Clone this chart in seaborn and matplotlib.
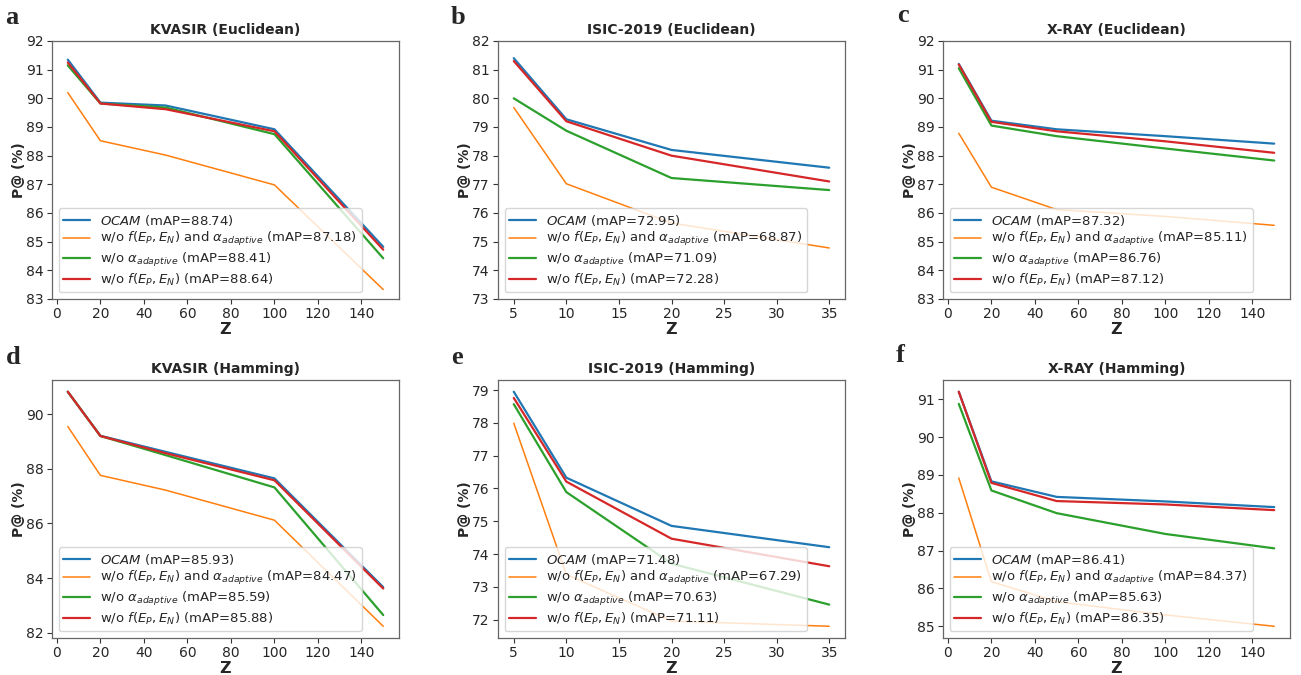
import seaborn as sns
import matplotlib.pyplot as plt
import pandas as pd
import numpy as np
from matplotlib.ticker import MultipleLocator

## values (P@ in %)
z_long = [5, 20, 50, 100, 150]
z_isic = [5, 10, 20, 35]

methods = [r"$\mathit{OCAM}$",
           r"w/o $f(E_P, E_N)$ and $\alpha_{adaptive}$",
           r"w/o $\alpha_{adaptive}$",
           r"w/o $f(E_P, E_N)$"]

# a - KVASIR (Euclidean)
kvasir_euc = [[91.35, 89.85, 89.75, 88.92, 84.82],
              [90.20, 88.52, 88.02, 86.98, 83.33],
              [91.15, 89.82, 89.68, 88.75, 84.42],
              [91.25, 89.82, 89.62, 88.85, 84.72]]
kvasir_euc_map = [88.74, 87.18, 88.41, 88.64]

# b - ISIC-2019 (Euclidean)
isic_euc = [[81.40, 79.27, 78.20, 77.58],
            [79.68, 77.02, 75.65, 74.78],
            [80.00, 78.87, 77.22, 76.80],
            [81.30, 79.20, 78.00, 77.10]]
isic_euc_map = [72.95, 68.87, 71.09, 72.28]

# c - X-RAY (Euclidean)
xray_euc = [[91.20, 89.22, 88.92, 88.68, 88.42],
            [88.78, 86.90, 86.12, 85.88, 85.57],
            [91.05, 89.05, 88.68, 88.25, 87.83],
            [91.18, 89.18, 88.85, 88.50, 88.10]]
xray_euc_map = [87.32, 85.11, 86.76, 87.12]

# d - KVASIR (Hamming)
kvasir_ham = [[90.82, 89.21, 88.62, 87.65, 83.67],
              [89.55, 87.76, 87.22, 86.12, 82.24],
              [90.82, 89.20, 88.50, 87.32, 82.65],
              [90.82, 89.20, 88.57, 87.58, 83.62]]
kvasir_ham_map = [85.93, 84.47, 85.59, 85.88]

# e - ISIC-2019 (Hamming)
isic_ham = [[78.95, 76.33, 74.86, 74.21],
            [77.99, 73.38, 71.96, 71.80],
            [78.57, 75.89, 73.71, 72.46],
            [78.76, 76.21, 74.47, 73.63]]
isic_ham_map = [71.48, 67.29, 70.63, 71.11]

# f - X-RAY (Hamming)
xray_ham = [[91.20, 88.83, 88.42, 88.30, 88.15],
            [88.92, 86.18, 85.65, 85.30, 85.00],
            [90.88, 88.59, 87.99, 87.44, 87.06],
            [91.20, 88.79, 88.31, 88.22, 88.07]]
xray_ham_map = [86.41, 84.37, 85.63, 86.35]

panels = [
    ("a", "KVASIR (Euclidean)", z_long, kvasir_euc, kvasir_euc_map, (83, 92), 1),
    ("b", "ISIC-2019 (Euclidean)", z_isic, isic_euc, isic_euc_map, (73, 82), 1),
    ("c", "X-RAY (Euclidean)", z_long, xray_euc, xray_euc_map, (83, 92), 1),
    ("d", "KVASIR (Hamming)", z_long, kvasir_ham, kvasir_ham_map, None, 2),
    ("e", "ISIC-2019 (Hamming)", z_isic, isic_ham, isic_ham_map, None, 1),
    ("f", "X-RAY (Hamming)", z_long, xray_ham, xray_ham_map, None, 1),
]

sns.set_style("ticks")
plt.rcParams["font.family"] = ["DejaVu Sans"]
plt.rcParams["mathtext.fontset"] = "dejavusans"
palette = sns.color_palette("tab10")[:4]
widths = [1.6, 1.1, 1.6, 1.6]

fig = plt.figure(figsize=(13.01, 6.75), dpi=100)
W, H = 1301, 675
lefts = [52, 498, 943]
tops = [41, 380]
aw, ah = 347, 258
letter_pos = [(12, 17), (458, 17), (903, 15), (13, 358), (457, 358), (900, 355)]

for i, (letter, title, z, vals, maps, ylim, ystep) in enumerate(panels):
    r, c = divmod(i, 3)
    ax = fig.add_axes([lefts[c] / W, 1 - (tops[r] + ah) / H, aw / W, ah / H])

    rows = []
    for m, label in enumerate(methods):
        name = f"{label} (mAP={maps[m]:.2f})"
        for zz, v in zip(z, vals[m]):
            rows.append({"Z": zz, "P": v, "method": name})
    df = pd.DataFrame(rows)

    sns.lineplot(data=df, x="Z", y="P", hue="method", palette=palette,
                 linewidth=1.5, ax=ax)
    for line, lw in zip(ax.lines[:4], widths):
        line.set_linewidth(lw)

    if ylim is not None:
        ax.set_ylim(*ylim)
    ax.yaxis.set_major_locator(MultipleLocator(ystep))
    ax.xaxis.set_major_locator(MultipleLocator(5 if z == z_isic else 20))
    ax.tick_params(labelsize=10, length=3.5, width=0.8, color="#333333", pad=2.5)
    for s in ax.spines.values():
        s.set_color("#666666")
        s.set_linewidth(0.9)

    ax.set_title(title, fontsize=10, fontweight="bold", pad=5)
    ax.set_xlabel("Z", fontsize=11.5, fontweight="bold", labelpad=0.5)
    ax.set_ylabel("P@ (%)", fontsize=10, fontweight="bold", labelpad=0)

    handles, labels = ax.get_legend_handles_labels()
    for h, lw in zip(handles, widths):
        h.set_linewidth(lw)
    leg = ax.legend(handles, labels, loc="lower left", fontsize=9.5,
                    handlelength=2.0, labelspacing=0.2, borderpad=0.35,
                    borderaxespad=0.5, frameon=True)
    leg.get_frame().set_edgecolor("#cccccc")

    fig.text(letter_pos[i][0] / W, 1 - letter_pos[i][1] / H, letter,
             family="Liberation Serif", fontweight="bold", fontsize=19,
             ha="center", va="center")

fig.savefig("out.png", dpi=100, facecolor="white")
